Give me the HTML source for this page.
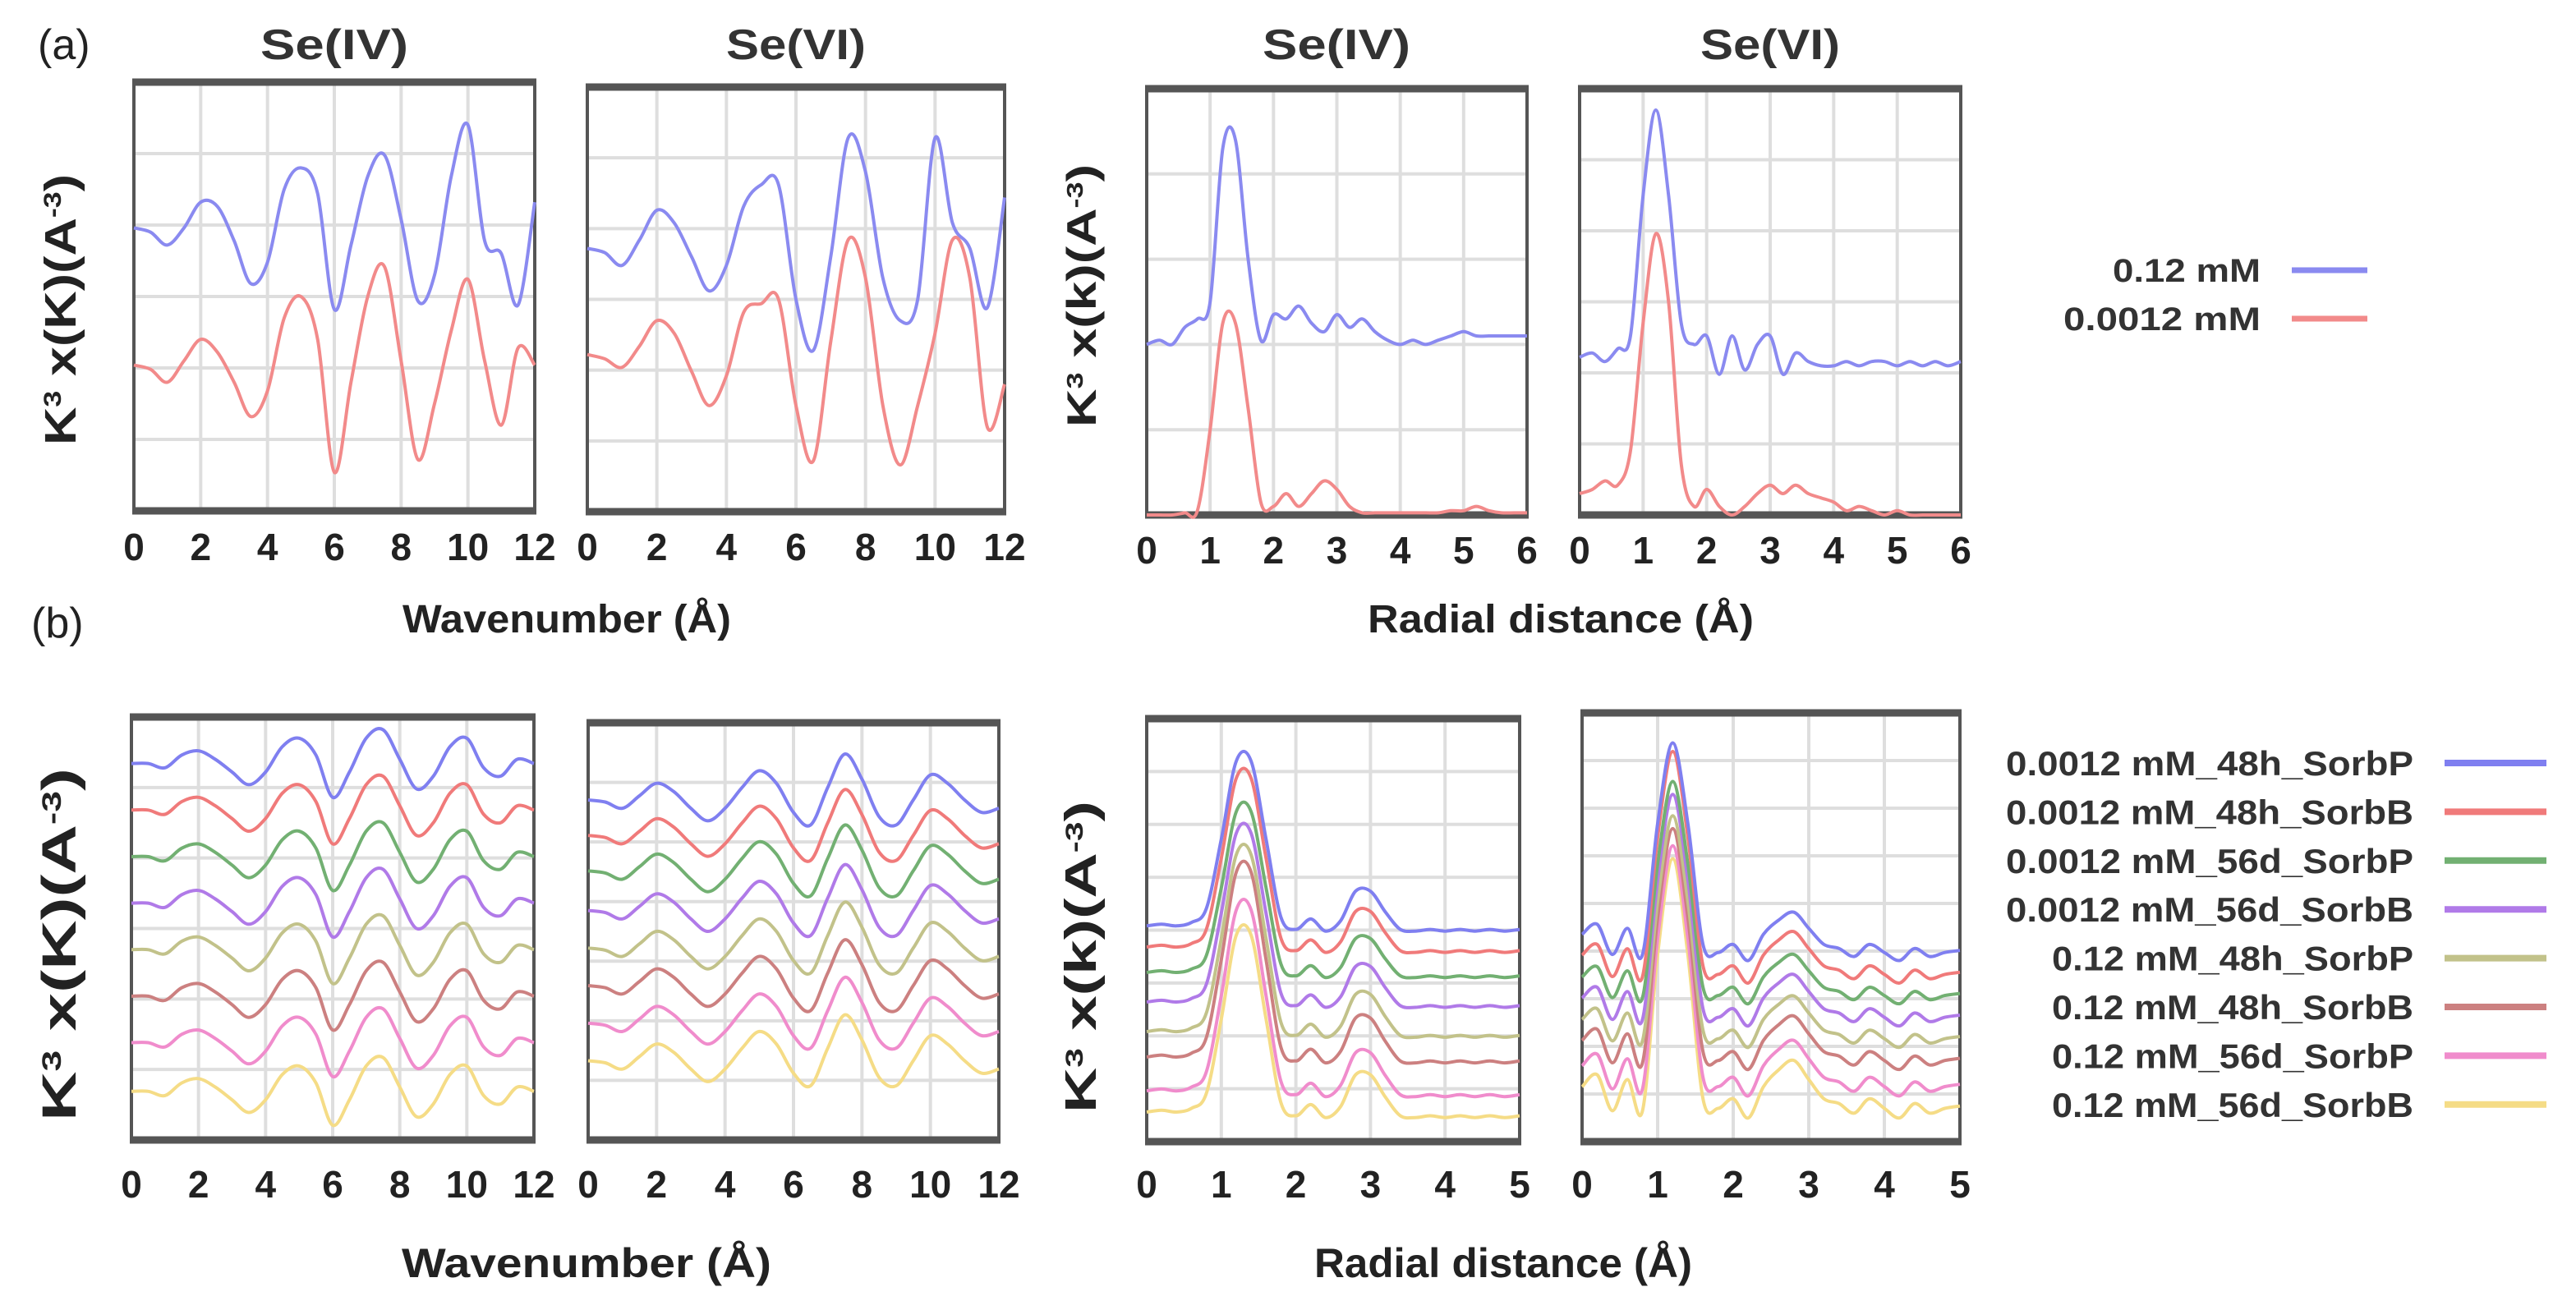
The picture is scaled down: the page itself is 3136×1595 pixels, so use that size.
<!DOCTYPE html>
<html><head><meta charset="utf-8"><style>
html,body{margin:0;padding:0;background:#fff;}
svg{display:block;font-family:"Liberation Sans",sans-serif;}
</style></head><body>
<svg id="fig" width="3136" height="1595" viewBox="0 0 3136 1595" xmlns="http://www.w3.org/2000/svg">
<text x="46" y="72" font-size="52" fill="#222">(a)</text>
<text x="38" y="776" font-size="52" fill="#222">(b)</text>
<text x="407" y="72" font-size="52" font-weight="bold" text-anchor="middle" fill="#333" textLength="180" lengthAdjust="spacingAndGlyphs">Se(IV)</text>
<text x="969" y="72" font-size="52" font-weight="bold" text-anchor="middle" fill="#333" textLength="170" lengthAdjust="spacingAndGlyphs">Se(VI)</text>
<text x="1627" y="72" font-size="52" font-weight="bold" text-anchor="middle" fill="#333" textLength="180" lengthAdjust="spacingAndGlyphs">Se(IV)</text>
<text x="2155" y="72" font-size="52" font-weight="bold" text-anchor="middle" fill="#333" textLength="170" lengthAdjust="spacingAndGlyphs">Se(VI)</text>
<text x="690" y="770" font-size="48" font-weight="bold" text-anchor="middle" fill="#222" textLength="400" lengthAdjust="spacingAndGlyphs">Wavenumber (Å)</text>
<text x="1900" y="770" font-size="48" font-weight="bold" text-anchor="middle" fill="#222" textLength="470" lengthAdjust="spacingAndGlyphs">Radial distance (Å)</text>
<text x="714" y="1555" font-size="50" font-weight="bold" text-anchor="middle" fill="#222" textLength="450" lengthAdjust="spacingAndGlyphs">Wavenumber (Å)</text>
<text x="1830" y="1555" font-size="50" font-weight="bold" text-anchor="middle" fill="#222" textLength="460" lengthAdjust="spacingAndGlyphs">Radial distance (Å)</text>
<text transform="translate(92,377) rotate(-90)" font-size="54" font-weight="bold" text-anchor="middle" fill="#222" textLength="330" lengthAdjust="spacingAndGlyphs">K<tspan font-size="30" dy="-18">3</tspan><tspan dy="18"> x(K)(A</tspan><tspan font-size="30" dy="-18">-3</tspan><tspan dy="18">)</tspan></text>
<text transform="translate(1334,360) rotate(-90)" font-size="50" font-weight="bold" text-anchor="middle" fill="#222" textLength="320" lengthAdjust="spacingAndGlyphs">K<tspan font-size="28" dy="-16">3</tspan><tspan dy="16"> x(k)(A</tspan><tspan font-size="28" dy="-16">-3</tspan><tspan dy="16">)</tspan></text>
<text transform="translate(92,1150) rotate(-90)" font-size="58" font-weight="bold" text-anchor="middle" fill="#222" textLength="430" lengthAdjust="spacingAndGlyphs">K<tspan font-size="32" dy="-18">3</tspan><tspan dy="18"> x(K)(A</tspan><tspan font-size="32" dy="-18">-3</tspan><tspan dy="18">)</tspan></text>
<text transform="translate(1334,1165) rotate(-90)" font-size="54" font-weight="bold" text-anchor="middle" fill="#222" textLength="380" lengthAdjust="spacingAndGlyphs">K<tspan font-size="30" dy="-16">3</tspan><tspan dy="16"> x(k)(A</tspan><tspan font-size="30" dy="-16">-3</tspan><tspan dy="16">)</tspan></text>
</svg>
<script>
// ---- data ----
const kGrid = [0,0.5,1,1.5,2,2.5,3,3.5,4,4.5,5,5.5,6,6.5,7,7.5,8,8.5,9,9.5,10,10.5,11,11.5,12];
const rGridA = [0,0.2,0.4,0.6,0.8,1.0,1.2,1.4,1.6,1.8,2.0,2.2,2.4,2.6,2.8,3.0,3.2,3.4,3.6,3.8,4.0,4.2,4.4,4.6,4.8,5.0,5.2,5.4,5.6,5.8,6.0];
const rGridB = [0,0.2,0.4,0.6,0.8,1.0,1.2,1.4,1.6,1.8,2.0,2.2,2.4,2.6,2.8,3.0,3.2,3.4,3.6,3.8,4.0,4.2,4.4,4.6,4.8,5.0];
const kTicks = ["0","2","4","6","8","10","12"];
const rTicksA = ["0","1","2","3","4","5","6"];
const rTicksB = ["0","1","2","3","4","5"];
const seriesA = ["0.12 mM","0.0012 mM"];
const seriesB = ["0.0012 mM_48h_SorbP","0.0012 mM_48h_SorbB","0.0012 mM_56d_SorbP","0.0012 mM_56d_SorbB","0.12 mM_48h_SorbP","0.12 mM_48h_SorbB","0.12 mM_56d_SorbP","0.12 mM_56d_SorbB"];
const a1Blue = [0.66,0.65,0.62,0.66,0.72,0.71,0.63,0.53,0.58,0.75,0.80,0.74,0.47,0.62,0.78,0.83,0.68,0.49,0.55,0.78,0.90,0.63,0.60,0.48,0.72];
const a1Red  = [0.34,0.33,0.30,0.35,0.40,0.37,0.30,0.22,0.28,0.45,0.50,0.40,0.09,0.30,0.50,0.57,0.35,0.12,0.25,0.42,0.54,0.35,0.20,0.38,0.34];
const a2Blue = [0.62,0.61,0.58,0.64,0.71,0.68,0.60,0.52,0.58,0.72,0.77,0.77,0.50,0.38,0.60,0.88,0.80,0.55,0.45,0.50,0.88,0.68,0.62,0.48,0.74];
const a2Red  = [0.37,0.36,0.34,0.39,0.45,0.42,0.33,0.25,0.32,0.47,0.49,0.50,0.25,0.12,0.40,0.64,0.55,0.25,0.11,0.25,0.42,0.64,0.55,0.20,0.30];
const a3Blue = [0.40,0.41,0.40,0.44,0.46,0.50,0.86,0.88,0.60,0.41,0.47,0.46,0.49,0.45,0.43,0.47,0.44,0.46,0.43,0.41,0.40,0.41,0.40,0.41,0.42,0.43,0.42,0.42,0.42,0.42,0.42];
const a3Red  = [0.0,0.0,0.0,0.005,0.01,0.20,0.45,0.45,0.25,0.03,0.02,0.05,0.02,0.05,0.08,0.06,0.02,0.005,0.005,0.005,0.005,0.005,0.005,0.005,0.01,0.01,0.02,0.01,0.005,0.005,0.005];
const a4Blue = [0.37,0.38,0.36,0.39,0.42,0.75,0.95,0.75,0.45,0.40,0.42,0.33,0.42,0.34,0.40,0.42,0.33,0.38,0.36,0.35,0.35,0.36,0.35,0.36,0.36,0.35,0.36,0.35,0.36,0.35,0.36];
const a4Red  = [0.05,0.06,0.08,0.07,0.15,0.45,0.66,0.50,0.12,0.02,0.06,0.02,0.0,0.02,0.05,0.07,0.05,0.07,0.05,0.04,0.03,0.01,0.02,0.01,0.0,0.01,0.0,0.0,0.0,0.0,0.0];
const b1Shape = [0,0,-0.01,0.02,0.03,0.01,-0.02,-0.05,-0.02,0.04,0.06,0.02,-0.08,-0.02,0.06,0.08,0.01,-0.06,-0.03,0.04,0.06,-0.01,-0.03,0.01,0];
const b1Offsets = [0.89,0.78,0.67,0.56,0.45,0.34,0.23,0.115];
const b2Shape = [0,-0.005,-0.02,0.01,0.04,0.02,-0.02,-0.05,-0.02,0.03,0.07,0.04,-0.03,-0.06,0.03,0.11,0.05,-0.04,-0.06,0,0.06,0.04,0,-0.03,-0.02];
const b2Offsets = [0.815,0.73,0.645,0.55,0.46,0.37,0.28,0.19];
const b3Shape = [0,0.01,0,0.02,0.1,0.5,0.95,0.95,0.5,0.05,-0.02,0.04,-0.03,0.03,0.2,0.2,0.08,-0.02,-0.03,-0.02,-0.03,-0.02,-0.03,-0.02,-0.03,-0.02];
const b3Offsets = [0.51,0.46,0.40,0.33,0.26,0.20,0.12,0.07];
const b3Amps = [0.41,0.42,0.40,0.42,0.44,0.46,0.45,0.44];
const b4Shape = [0.05,0.1,-0.05,0.08,-0.05,0.6,1.0,0.6,0,-0.04,0,-0.08,0.05,0.12,0.16,0.08,0,-0.02,-0.06,0,-0.04,-0.08,-0.02,-0.06,-0.04,-0.03];
const b4Offsets = [0.46,0.41,0.36,0.31,0.26,0.21,0.15,0.10];
const b4Amps = [0.47,0.50,0.48,0.50,0.50,0.52,0.54,0.56];

const colA = ["#8a8af0","#f28a8a"];
const colB = ["#7f7ff0","#f07a7a","#72b072","#b07ae8","#c2c28a","#cc8080","#f08ccc","#f5dc86"];
const NS="http://www.w3.org/2000/svg";
const svg=document.getElementById('fig');
function mk(tag,attrs,parent){const e=document.createElementNS(NS,tag);for(const k in attrs)e.setAttribute(k,attrs[k]);(parent||svg).appendChild(e);return e;}
function smooth(pts){let d="M"+pts[0][0].toFixed(1)+","+pts[0][1].toFixed(1);for(let i=0;i<pts.length-1;i++){const p0=pts[i-1]||pts[i],p1=pts[i],p2=pts[i+1],p3=pts[i+2]||p2;const c1=[p1[0]+(p2[0]-p0[0])/6,p1[1]+(p2[1]-p0[1])/6],c2=[p2[0]-(p3[0]-p1[0])/6,p2[1]-(p3[1]-p1[1])/6];d+="C"+c1[0].toFixed(1)+","+c1[1].toFixed(1)+" "+c2[0].toFixed(1)+","+c2[1].toFixed(1)+" "+p2[0].toFixed(1)+","+p2[1].toFixed(1);}return d;}

function panel(name,x0,y0,x1,y1,xmax,ticks,tickStep,hgrid,tickY){
  const g=mk('g',{});
  
  
  const sx=v=>x0+(x1-x0)*v/xmax, sy=f=>y1-(y1-y0)*f;
  for(let i=1;i<hgrid;i++){const l=mk('line',{x1:x0,x2:x1,y1:sy(i/hgrid),y2:sy(i/hgrid),stroke:'#dedede','stroke-width':4},g);}
  ticks.forEach((t,i)=>{const xv=i*tickStep;const X=sx(xv);
    if(i>0&&xv<xmax){const l=mk('line',{x1:X,x2:X,y1:y0,y2:y1,stroke:'#dedede','stroke-width':4},g);}
    const tx=mk('text',{x:X,y:tickY,'font-size':46,'font-weight':'bold','text-anchor':'middle',fill:'#222'},g);tx.textContent=t;
    
    });
  const fr=mk('rect',{x:x0,y:y0,width:x1-x0,height:y1-y0,fill:'none',stroke:'#555','stroke-width':4},g);
  
  
  const t=mk('line',{x1:x0-2,x2:x1+2,y1:y0,y2:y0,stroke:'#555','stroke-width':9},g);
  
  
  const b=mk('line',{x1:x0-2,x2:x1+2,y1:y1,y2:y1,stroke:'#555','stroke-width':9},g);
  
  
  return {g,sx,sy};
}
function line(p,xs,ys,color,name){
  const pts=xs.map((x,i)=>[p.sx(x),p.sy(ys[i])]);
  const e=mk('path',{d:smooth(pts),fill:'none',stroke:color,'stroke-width':4,'stroke-linejoin':'round'},p.g);
  
  
}
// (a)
const pa1=panel('plot-a-se4-k',163,100,651,622,12,kTicks,2,6,682);
line(pa1,kGrid,a1Blue,colA[0],'line-a-se4-k-012mM');line(pa1,kGrid,a1Red,colA[1],'line-a-se4-k-00012mM');
const pa2=panel('plot-a-se6-k',715,106,1223,623,12,kTicks,2,6,682);
line(pa2,kGrid,a2Blue,colA[0],'line-a-se6-k-012mM');line(pa2,kGrid,a2Red,colA[1],'line-a-se6-k-00012mM');
const pa3=panel('plot-a-se4-r',1396,108,1859,627,6,rTicksA,1,5,686);
line(pa3,rGridA,a3Blue,colA[0],'line-a-se4-r-012mM');line(pa3,rGridA,a3Red,colA[1],'line-a-se4-r-00012mM');
const pa4=panel('plot-a-se6-r',1923,108,2387,627,6,rTicksA,1,6,686);
line(pa4,rGridA,a4Blue,colA[0],'line-a-se6-r-012mM');line(pa4,rGridA,a4Red,colA[1],'line-a-se6-r-00012mM');
// (b)
const pb1=panel('plot-b-se4-k',160,873,650,1388,12,kTicks,2,6,1458);
const pb2=panel('plot-b-se6-k',716,880,1216,1388,12,kTicks,2,7,1458);
const pb3=panel('plot-b-se4-r',1396,875,1850,1390,5,rTicksB,1,8,1458);
const pb4=panel('plot-b-se6-r',1926,868,2386,1390,5,rTicksB,1,9,1458);
for(let s=seriesB.length-1;s>=0;s--){
  line(pb1,kGrid,b1Shape.map(v=>v+b1Offsets[s]),colB[s],'line-b-se4-k-'+s);
  line(pb2,kGrid,b2Shape.map(v=>v+b2Offsets[s]),colB[s],'line-b-se6-k-'+s);
  line(pb3,rGridB,b3Shape.map(v=>v*b3Amps[s]+b3Offsets[s]),colB[s],'line-b-se4-r-'+s);
  line(pb4,rGridB,b4Shape.map(v=>v*b4Amps[s]+b4Offsets[s]),colB[s],'line-b-se6-r-'+s);
}
// legends
const legALen=[180,240];
seriesA.forEach((n,i)=>{const y=329+i*59;
  const t=mk('text',{x:2752,y:y+14,'font-size':40,'font-weight':'bold','text-anchor':'end',fill:'#333',textLength:legALen[i],lengthAdjust:'spacingAndGlyphs'});t.textContent=n;
  
  
  const l=mk('line',{x1:2790,x2:2882,y1:y,y2:y,stroke:colA[i],'stroke-width':7});
  
  });
seriesB.forEach((n,i)=>{const y=929+i*59.4;
  const t=mk('text',{x:2938,y:y+15,'font-size':42,'font-weight':'bold','text-anchor':'end',fill:'#333',textLength:(i<4?496:440),lengthAdjust:'spacingAndGlyphs'});t.textContent=n;
  
  
  const l=mk('line',{x1:2976,x2:3100,y1:y,y2:y,stroke:colB[i],'stroke-width':8});
  
  });
</script>
</body></html>
